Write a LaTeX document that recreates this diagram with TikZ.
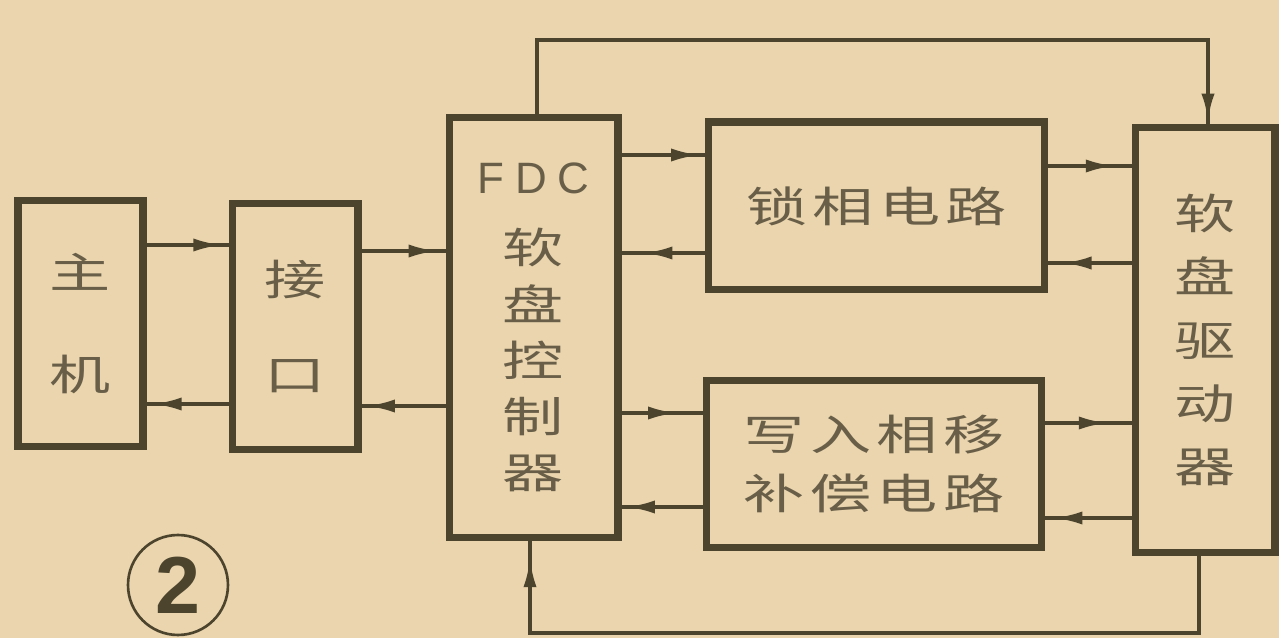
\documentclass[tikz,border=0pt]{standalone}
\usepackage{fontspec}
\newfontfamily\cjk[FakeStretch=1.45]{Noto Sans CJK SC}
\newfontfamily\lat{Liberation Sans}
\usetikzlibrary{arrows.meta,decorations.markings}
\definecolor{paper}{RGB}{234,213,174}
\definecolor{ink}{RGB}{76,68,44}
\definecolor{txt}{RGB}{105,95,72}
\tikzset{
  box/.style={draw=ink, line width=4pt, inner sep=0pt, text=txt, align=center,
    font=\cjk\fontsize{24}{32}\selectfont},
  arr/.style={draw=ink, line width=2pt, postaction=decorate,
    decoration={markings, mark=at position #1 with {\arrow[ink]{Latex[length=16pt,width=7.5pt]}}}},
  arr/.default=-4pt
}
\begin{document}
\begin{tikzpicture}[x=0.02cm,y=-0.02cm]
\fill[paper] (0,0) rectangle (1279,638);
\useasboundingbox (0,0) rectangle (1279,638);

\node[box, minimum width=2.5cm, minimum height=4.94cm, font=\cjk\fontsize{24}{58}\selectfont] (zj) at (80.5,323.5) {主\\机};
\node[box, minimum width=2.52cm, minimum height=4.94cm, font=\cjk\fontsize{24}{54}\selectfont] (jk) at (295,326.5) {接\\口};
\node[box, minimum width=3.38cm, minimum height=8.42cm, font=\cjk\fontsize{24}{32}\selectfont] (fdc) at (533.5,327.5)
  {{\lat\fontsize{25}{28}\selectfont F\hspace{6pt}D\hspace{6pt}C}\\[8pt]软\\盘\\控\\制\\器};
\node[box, minimum width=6.74cm, minimum height=3.36cm] (sx) at (876.5,206) {锁\hspace{3pt}相\hspace{3pt}电\hspace{3pt}路};
\node[box, minimum width=6.72cm, minimum height=3.36cm, font=\cjk\fontsize{24}{34}\selectfont] (xr) at (874,464)
  {写\hspace{3pt}入\hspace{3pt}相\hspace{3pt}移\\补\hspace{3pt}偿\hspace{3pt}电\hspace{3pt}路};
\node[box, minimum width=2.8cm, minimum height=8.52cm, font=\cjk\fontsize{24}{36}\selectfont] (qd) at (1205,340) {软\\盘\\驱\\动\\器};

\node[draw=ink, line width=1.5pt, circle, minimum size=2cm, inner sep=0pt, text=ink,
  font=\lat\bfseries\fontsize{46}{46}\selectfont] (num) at (178,585) {2};

\draw[arr] (zj.east |- 0,245) -- (jk.west |- 0,245);
\draw[arr] (jk.west |- 0,404) -- (zj.east |- 0,404);
\draw[arr=-5pt] (jk.east |- 0,251) -- (fdc.west |- 0,251);
\draw[arr=-3pt] (fdc.west |- 0,406) -- (jk.east |- 0,406);

\draw[arr=-3pt] (fdc.east |- 0,155) -- (sx.west |- 0,155);
\draw[arr=-13pt] (sx.west |- 0,253) -- (fdc.east |- 0,253);
\draw[arr=-15pt] (fdc.east |- 0,413) -- (xr.west |- 0,413);
\draw[arr=-3pt] (xr.west |- 0,507) -- (fdc.east |- 0,507);

\draw[arr=-10pt] (sx.east |- 0,166) -- (qd.west |- 0,166);
\draw[arr=-8.5pt] (qd.west |- 0,263) -- (sx.east |- 0,263);
\draw[arr=-14pt] (xr.east |- 0,423) -- (qd.west |- 0,423);
\draw[arr=-5pt] (qd.west |- 0,518) -- (xr.east |- 0,518);

\draw[arr=-1pt, line width=2.4pt] (fdc.north -| 537,0) -- (537,40) -- (1208,40) -- (qd.north -| 1208,0);
\draw[arr=-10pt] (qd.south -| 1199,0) -- (1199,633) -- (530,633) -- (fdc.south -| 530,0);
\end{tikzpicture}
\end{document}
